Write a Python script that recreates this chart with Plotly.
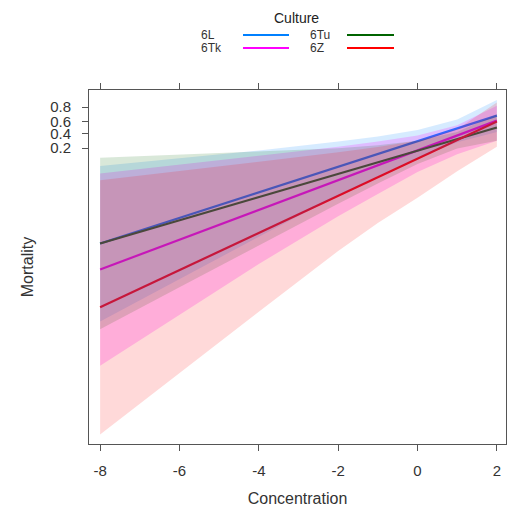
import numpy as np
import plotly.graph_objects as go

# Concentration grid at which fitted values and confidence limits are given
concentration = [-8, -6, -4, -2, -1, 0, 1, 2]

cultures = ["6L", "6Tk", "6Tu", "6Z"]

# Fitted mortality on the logit (linear predictor) scale
fit_6L = [-7.84, -6.11, -4.38, -2.65, -1.79, -0.92, -0.06, 0.81]
fit_6Tk = [-9.60, -7.59, -5.57, -3.56, -2.55, -1.54, -0.54, 0.47]
fit_6Tu = [-7.84, -6.27, -4.70, -3.14, -2.35, -1.57, -0.78, 0.00]
fit_6Z = [-12.16, -9.65, -7.13, -4.62, -3.36, -2.10, -0.85, 0.41]

# 95% confidence limits on the logit scale
lower_6L = [-13.11, -10.24, -7.39, -4.57, -3.30, -2.05, -1.00, -0.30]
upper_6L = [-2.60, -2.10, -1.55, -0.95, -0.60, -0.17, 0.55, 1.86]
lower_6Tk = [-16.10, -12.66, -9.23, -6.00, -4.50, -3.00, -1.80, -0.90]
upper_6Tk = [-3.10, -2.52, -1.91, -1.30, -0.95, -0.54, 0.16, 1.47]
lower_6Tu = [-13.64, -10.80, -7.96, -5.16, -3.78, -2.47, -1.41, -0.90]
upper_6Tu = [-2.05, -1.85, -1.65, -1.40, -1.20, -0.90, -0.30, 0.90]
lower_6Z = [-20.76, -16.60, -12.45, -8.35, -6.45, -4.75, -2.95, -1.30]
upper_6Z = [-3.56, -2.95, -2.32, -1.67, -1.32, -0.90, -0.12, 1.70]

# Probability tick labels placed on the logit axis
prob_ticks = [0.2, 0.4, 0.6, 0.8]
x_ticks = [-8, -6, -4, -2, 0, 2]

fits = {"6L": fit_6L, "6Tk": fit_6Tk, "6Tu": fit_6Tu, "6Z": fit_6Z}
lowers = {"6L": lower_6L, "6Tk": lower_6Tk, "6Tu": lower_6Tu, "6Z": lower_6Z}
uppers = {"6L": upper_6L, "6Tk": upper_6Tk, "6Tu": upper_6Tu, "6Z": upper_6Z}

line_colors = {"6L": "#0080ff", "6Tk": "#ff00ff", "6Tu": "#006400", "6Z": "#ff0000"}
band_colors = {
    "6L": "rgba(0,128,255,0.16)",
    "6Tk": "rgba(255,0,255,0.20)",
    "6Tu": "rgba(0,100,0,0.15)",
    "6Z": "rgba(255,0,0,0.15)",
}

FONT = "Liberation Sans, Arial, sans-serif"

fig = go.Figure()

# fitted lines
for c in cultures:
    fig.add_trace(go.Scatter(
        x=concentration, y=fits[c], mode="lines",
        line=dict(color=line_colors[c], width=2.2),
        showlegend=False, hoverinfo="skip",
    ))

# translucent confidence bands
for c in cultures:
    fig.add_trace(go.Scatter(
        x=concentration + concentration[::-1],
        y=uppers[c] + lowers[c][::-1],
        mode="lines", fill="toself", fillcolor=band_colors[c],
        line=dict(width=0), showlegend=False, hoverinfo="skip",
    ))

logit = lambda p: float(np.log(p / (1 - p)))

W, H = 507, 510
L, R, T, B = 89, 506, 90, 444


def paper_x(p):
    return (p - L) / (R - L)


def paper_y(p):
    return (B - p) / (B - T)


# key drawn above the panel
annotations = [dict(
    text="Culture", x=paper_x(296), y=paper_y(18), xref="paper", yref="paper",
    showarrow=False, font=dict(family=FONT, size=14, color="#222"),
    xanchor="center", yanchor="middle",
)]
shapes = []
key_layout = [
    ("6L", 199, 243, 289, 35),
    ("6Tu", 308, 347, 394, 35),
    ("6Tk", 199, 243, 289, 48),
    ("6Z", 308, 347, 394, 48),
]
for name, tx, lx0, lx1, ty in key_layout:
    annotations.append(dict(
        text=name, x=paper_x(tx), y=paper_y(ty), xref="paper", yref="paper",
        showarrow=False, font=dict(family=FONT, size=12, color="#333"),
        xanchor="left", yanchor="middle",
    ))
    shapes.append(dict(
        type="line", xref="paper", yref="paper",
        x0=paper_x(lx0), x1=paper_x(lx1), y0=paper_y(ty), y1=paper_y(ty),
        line=dict(color=line_colors[name], width=2),
    ))

fig.update_layout(
    width=W, height=H,
    margin=dict(l=L, r=W - R, t=T, b=H - B),
    plot_bgcolor="white", paper_bgcolor="white",
    showlegend=False,
    annotations=annotations, shapes=shapes,
    font=dict(family=FONT, color="#333"),
    xaxis=dict(
        range=[-8.28, 2.23], tickvals=x_ticks,
        ticktext=[str(v) for v in x_ticks],
        showgrid=False, zeroline=False,
        showline=True, linecolor="#555", linewidth=1, mirror="ticks",
        ticks="outside", ticklen=6, tickcolor="#555",
        tickfont=dict(family=FONT, size=15, color="#333"),
        ticklabelstandoff=7,
        title=dict(text="Concentration", font=dict(family=FONT, size=16, color="#333"), standoff=14),
    ),
    yaxis=dict(
        range=[-21.4, 2.54],
        tickvals=[logit(p) for p in prob_ticks],
        ticktext=[f"{p:.1f}" for p in prob_ticks],
        showgrid=False, zeroline=False,
        showline=True, linecolor="#555", linewidth=1, mirror=True,
        ticks="outside", ticklen=6, tickcolor="#555",
        tickfont=dict(family=FONT, size=15, color="#333"),
        ticklabelstandoff=8,
        title=dict(text="Mortality", font=dict(family=FONT, size=16, color="#333"), standoff=12),
    ),
)

fig.write_html("out.html")
